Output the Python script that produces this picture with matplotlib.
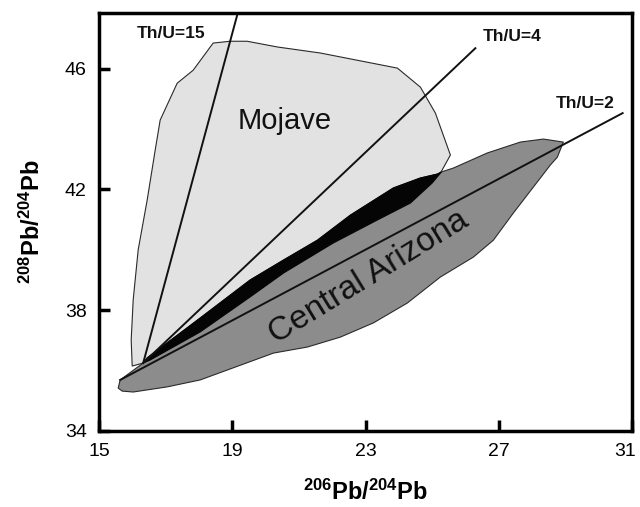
import numpy as np
import matplotlib
matplotlib.use("Agg")
import matplotlib.pyplot as plt
import matplotlib.transforms as mtransforms

# ===================== 数据 =====================
# Mojave 区域边界 (206Pb/204Pb, 208Pb/204Pb)
mojave_x = [15.99, 15.96, 16.02, 16.17, 16.44, 16.68, 16.83, 17.34, 17.82, 18.42, 18.93, 19.44,
            20.35, 21.64, 23.95, 24.64, 25.09, 25.54, 25.24, 24.99, 24.34, 23.35, 22.03, 20.53,
            19.53, 18.03, 16.53, 16.32]
mojave_y = [36.15, 37.01, 38.34, 40.00, 41.65, 43.30, 44.30, 45.52, 45.95, 46.85, 46.91, 46.91,
            46.72, 46.52, 46.02, 45.39, 44.53, 43.14, 42.54, 42.21, 41.55, 40.99, 40.23, 39.23,
            38.44, 37.28, 36.35, 36.25]

# Central Arizona 区域边界
arizona_x = [15.63, 15.57, 15.69, 16.02, 17.04, 18.03, 19.02, 20.23, 21.25, 22.24, 23.23, 24.25,
             25.24, 26.23, 26.83, 27.43, 28.03, 28.54, 28.75, 28.93, 28.33, 27.64, 26.65, 25.63,
             25.27, 25.15, 24.64, 23.83, 22.54, 21.55, 20.53, 19.53, 18.03, 16.44, 16.32]
arizona_y = [35.69, 35.42, 35.32, 35.29, 35.46, 35.69, 36.09, 36.58, 36.78, 37.11, 37.58, 38.24,
             39.10, 39.76, 40.32, 41.22, 42.08, 42.81, 43.07, 43.57, 43.67, 43.57, 43.21, 42.71,
             42.58, 42.51, 42.38, 42.05, 41.15, 40.32, 39.66, 39.00, 37.74, 36.42, 36.25]

# 两区重叠部分（黑色）
overlap_x = [16.32, 16.44, 18.03, 19.53, 20.53, 21.55, 22.54, 23.83, 24.64, 25.15, 25.27,
             24.99, 24.34, 23.35, 22.03, 20.53, 19.53, 18.03, 16.53]
overlap_y = [36.25, 36.42, 37.74, 39.00, 39.66, 40.32, 41.15, 42.05, 42.38, 42.51, 42.58,
             42.21, 41.55, 40.99, 40.23, 39.23, 38.44, 37.28, 36.35]

# Th/U 参考线（起点、终点）
thu_labels = ["Th/U=15", "Th/U=4", "Th/U=2"]
thu_x0 = [16.32, 16.32, 15.63]
thu_y0 = [36.25, 36.25, 35.69]
thu_x1 = [19.14, 26.29, 30.71]
thu_y1 = [47.77, 46.68, 44.53]
thu_label_x = [16.14, 26.50, 28.69]
thu_label_y = [47.16, 47.08, 44.84]

x_ticks = [15, 19, 23, 27, 31]
y_ticks = [34, 38, 42, 46]

# ===================== 样式 =====================
plt.rcParams["font.family"] = ["Liberation Sans", "DejaVu Sans"]
plt.rcParams["mathtext.fontset"] = "custom"
plt.rcParams["mathtext.rm"] = "Liberation Sans"
plt.rcParams["mathtext.bf"] = "Liberation Sans:bold"

fig = plt.figure(figsize=(6.4, 5.07), dpi=100)
ax = fig.add_axes([0.155, 0.150, 0.833, 0.824])

edge = "#2a2a2a"
ax.fill(mojave_x, mojave_y, facecolor="#e2e2e2", edgecolor=edge, linewidth=0.8, zorder=1)
ax.fill(arizona_x, arizona_y, facecolor="#8c8c8c", edgecolor=edge, linewidth=0.8, zorder=2)
ax.fill(overlap_x, overlap_y, facecolor="#050505", edgecolor="#050505", linewidth=0.8, zorder=3)

for i in range(len(thu_labels)):
    ax.plot([thu_x0[i], thu_x1[i]], [thu_y0[i], thu_y1[i]], color="#111111", linewidth=1.4, zorder=4)
    ax.text(thu_label_x[i], thu_label_y[i], thu_labels[i], fontsize=12.5, fontweight="bold",
            ha="left", va="center", color="#111111", zorder=5)

ax.text(20.56, 44.26, "Mojave", fontsize=21, ha="center", va="center", color="#111111", zorder=5)
ax.text(23.10, 39.10, "Central Arizona", fontsize=24, ha="center", va="center",
        rotation=31.5, rotation_mode="anchor", color="#111111", zorder=5)

ax.set_xlim(15, 31)
ax.set_ylim(34, 47.84)
ax.set_xticks(x_ticks)
ax.set_yticks(y_ticks)
ax.tick_params(direction="in", length=8, width=2.5, labelsize=14, pad=9)
for sp in ax.spines.values():
    sp.set_linewidth(2.5)

# 最右侧刻度标签稍微左移，避免被裁切
last = ax.get_xticklabels()[-1]
last.set_transform(last.get_transform() + mtransforms.ScaledTranslation(-5 / 72, 0, fig.dpi_scale_trans))

ax.set_xlabel(r"$\mathbf{^{206}Pb/^{204}Pb}$", fontsize=17, labelpad=14)
ax.set_ylabel(r"$\mathbf{^{208}Pb/^{204}Pb}$", fontsize=17, labelpad=14)

plt.savefig("out.png", dpi=100)
